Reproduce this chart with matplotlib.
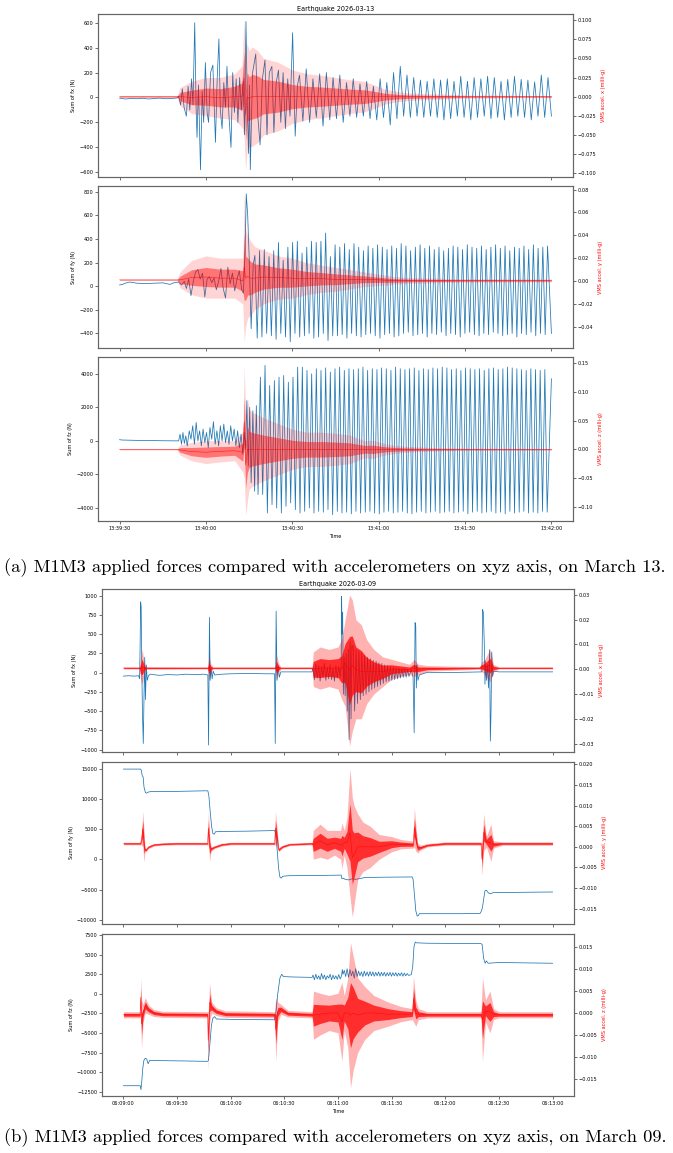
import numpy as np
import matplotlib
matplotlib.use("Agg")
import matplotlib.pyplot as plt
import matplotlib.dates as mdates
from matplotlib.ticker import MultipleLocator

BLUE = "#1f77b4"
W, H = 673, 1153

# ---------------- March 13 (seconds after 13:39:30) ----------------
BASE_A = "2026-03-13T13:39:30"

FX_A_QUIET = [(0, -5), (2, -12), (4, -8), (6, -10), (8, -6), (10, -12), (12, -8),
              (14, -5), (16, -10), (18, -8), (20, -4)]
FX_A_ONSET = [(20.5, 10), (21.2, -60), (21.8, 70), (22.4, -80), (23.2, -150), (23.8, 90),
              (24.4, -100), (25.0, 150), (25.5, -60), (26.1, 600), (26.6, -100), (26.9, -320),
              (27.4, 100), (28.1, -580), (28.7, 50), (29.2, -200), (29.8, 280), (30.4, -120),
              (30.9, -200), (31.6, 200), (32.4, 260), (32.9, -80), (33.3, -360), (33.9, 150),
              (34.5, 470), (35.0, -100), (35.6, -250), (36.2, 120), (36.8, -80), (37.3, 250),
              (38.0, -150), (38.7, -400), (39.3, 200), (39.9, -120), (40.5, 150), (41.1, -200),
              (41.7, 160), (42.3, -100), (42.9, 130), (43.4, -300), (43.9, 610), (44.4, -100),
              (44.8, -450), (45.1, 100), (45.4, -580), (46.2, 200), (47.3, 350), (48.0, -150),
              (48.8, -380), (49.6, 150), (50.5, 300), (51.2, -300), (52.0, 200), (52.9, 250),
              (53.6, -280), (54.4, 120), (55.2, 220), (56.0, -200), (56.8, 200), (57.6, -250),
              (58.4, 150), (59.2, -150), (60.1, 520), (61.0, -310), (61.8, 100)]
FX_A_PEAKS = [180, 230, 150, 190, 200, 160, 180, 120, 150, 110, 130, 90, 150, 120, 200, 250,
              180, 160, 140, 130, 150, 140, 150, 130, 170, 130, 160, 150, 170, 160, 130, 145,
              170, 145, 140, 125, 180, 160]
FX_A_TROUGHS = [-190, -200, -160, -230, -180, -170, -200, -150, -160, -150, -170, -180, -160,
                -220, -170, -150, -160, -150, -160, -150, -160, -180, -170, -150, -160, -180,
                -160, -150, -170, -160, -180, -160, -150, -160, -180, -150, -160, -150]

FY_A_QUIET = [(0, 10), (1, 15), (2, 25), (3.5, 35), (6, 25), (9, 22), (12, 25), (15, 28),
              (17.5, 15), (19, 30), (20.5, 35)]
FY_A_ONSET = [(21.5, 10), (22.5, 40), (23.2, -20), (24.0, 60), (24.8, -80), (25.6, 40),
              (26.4, 120), (27.2, 140), (28.0, 60), (28.8, 110), (29.6, -90), (30.4, 60),
              (31.2, 80), (32.0, 30), (32.8, 70), (33.6, -30), (34.4, 40), (35.2, 150),
              (36.0, -20), (36.8, -100), (37.6, 160), (38.4, 20), (39.2, 110), (40.0, -40),
              (40.8, 60), (41.6, 130), (42.4, -30), (43.0, -60), (43.6, 300), (44.0, 780),
              (44.5, 600), (45.0, 250), (45.7, -360), (46.4, 180), (47.0, 260), (150, -400)]
FY_A_TROUGHS = [-440, -430, -400, -420, -450, -400, -430, -470, -400, -430, -420, -400, -440,
                -430, -400, -460, -420, -420, -410, -440, -400, -420, -430, -410, -400, -420,
                -440, -410, -400, -430, -420, -400, -390, -420, -410, -400, -430, -400, -410,
                -390, -420, -400, -410, -430, -400, -390, -410, -420, -400, -410, -390, -400,
                -420, -410, -400, -430, -400, -410, -390, -420, -400, -410]
FY_A_PEAKS = [300, 310, 250, 300, 370, 220, 330, 370, 380, 280, 330, 380, 370, 380, 450, 250,
              350, 330, 360, 310, 360, 330, 300, 340, 320, 350, 330, 310, 340, 320, 360, 340,
              300, 330, 350, 320, 340, 310, 330, 300, 320, 340, 330, 310, 350, 330, 320, 340,
              310, 330, 350, 320, 340, 300, 330, 320, 340, 310, 350, 320, 330, 340]

FZ_A_QUIET = [(0, 70), (1, 50), (3, 40), (6, 30), (10, 30), (14, 10), (18, 5), (20.5, 0)]
FZ_A_ONSET = [(21.0, 400), (21.5, -200), (22.0, 500), (22.5, -150), (23.0, 300), (23.5, -300),
              (24.2, 600), (24.8, 100), (25.4, 900), (26.0, -200), (26.6, 1100), (27.2, 0),
              (27.8, 600), (28.4, -300), (29.0, 700), (29.6, -100), (30.2, 500), (30.8, -400),
              (31.4, 800), (32.0, 100), (32.6, 1150), (33.2, -200), (33.8, 600), (34.4, -300),
              (35.0, 900), (35.6, 0), (36.2, 1000), (36.8, -100), (37.4, 600), (38.0, -200),
              (38.6, 900), (39.2, 0), (39.8, 700), (40.4, -300), (41.0, 600), (41.6, -400),
              (42.2, 400), (42.8, -800), (43.3, 500), (43.8, -500), (44.2, 2400), (44.7, -1500),
              (45.2, 2000), (45.7, -2500), (46.3, 1800), (46.9, -3000), (47.5, 2100),
              (48.1, -3200), (150, 3700)]
FZ_A_PEAKS = [3800, 4500, 3300, 3600, 3800, 3900, 3500, 3800, 4400, 4400, 4200, 4000, 4300,
              4200, 4350, 4100, 4300, 4400, 4200, 4300, 4250, 4300, 4400, 4200, 4300, 4250,
              4350, 4300, 4200, 4400, 4300, 4250, 4300, 4350, 4200, 4300, 4250, 4350, 4300,
              4400, 4350, 4250, 4300, 4200, 4350, 4300, 4250, 4300, 4200, 4300, 4350, 4250,
              4300, 4400, 4350, 4300, 4250, 4200, 4300, 4250, 4200, 4250]
FZ_A_TROUGHS = [-3200, -4300, -3800, -4000, -4300, -3900, -3700, -4100, -4300, -4200, -4000,
                -4300, -4200, -4250, -4100, -4400, -4200, -4300, -4250, -4350, -4200, -4300,
                -4250, -4200, -4300, -4350, -4250, -4200, -4300, -4250, -4200, -4300, -4350,
                -4250, -4200, -4300, -4250, -4200, -4300, -4250, -4200, -4300, -4250, -4200,
                -4350, -4250, -4200, -4300, -4250, -4200, -4300, -4250, -4350, -4200, -4300,
                -4250, -4200, -4300, -4250, -4300, -4200, -4250]

# accelerometer envelopes (t, low, high) in milli-g
ACC_A_X = [(0, -0.001, 0.001), (20, -0.001, 0.001), (21, -0.012, 0.012), (25, -0.022, 0.02),
           (30, -0.025, 0.025), (35, -0.028, 0.025), (40, -0.03, 0.03), (42.5, -0.04, 0.04),
           (43.2, -0.05, 0.1), (43.8, -0.097, 0.05), (44.3, -0.07, 0.07), (45, -0.065, 0.06),
           (46, -0.065, 0.065), (48, -0.06, 0.06), (50, -0.05, 0.05), (55, -0.045, 0.045),
           (60, -0.035, 0.035), (65, -0.03, 0.03), (70, -0.028, 0.028), (75, -0.025, 0.025),
           (80, -0.022, 0.022), (85, -0.02, 0.02), (88, -0.016, 0.016), (92, -0.01, 0.01),
           (96, -0.007, 0.007), (100, -0.005, 0.005), (105, -0.004, 0.004),
           (110, -0.0035, 0.0035), (115, -0.003, 0.003), (120, -0.002, 0.002),
           (130, -0.002, 0.002), (140, -0.0015, 0.0015), (150, -0.0015, 0.0015)]
ACC_A_Y = [(0, 0.0005, 0.0015), (20, 0.0005, 0.0015), (21, -0.006, 0.008), (25, -0.012, 0.018),
           (30, -0.015, 0.022), (35, -0.015, 0.02), (40, -0.015, 0.02), (42.8, -0.02, 0.02),
           (43.3, -0.053, 0.078), (43.8, -0.04, 0.045), (44.5, -0.032, 0.04),
           (45.5, -0.03, 0.035), (47, -0.025, 0.03), (50, -0.02, 0.027), (55, -0.016, 0.022),
           (60, -0.015, 0.02), (65, -0.012, 0.016), (70, -0.01, 0.014), (75, -0.009, 0.012),
           (80, -0.007, 0.01), (85, -0.005, 0.008), (90, -0.004, 0.006), (95, -0.003, 0.004),
           (100, -0.002, 0.003), (110, -0.0015, 0.0025), (120, -0.001, 0.002),
           (150, -0.0008, 0.0018)]
ACC_A_Z = [(0, -0.001, 0.001), (20, -0.001, 0.001), (21, -0.01, 0.008), (25, -0.02, 0.012),
           (30, -0.025, 0.015), (35, -0.022, 0.015), (40, -0.02, 0.015), (42.8, -0.04, 0.03),
           (43.3, -0.05, 0.146), (43.8, -0.115, 0.06), (44.4, -0.09, 0.09), (45, -0.07, 0.07),
           (46, -0.065, 0.065), (48, -0.06, 0.06), (50, -0.055, 0.055), (55, -0.045, 0.045),
           (60, -0.035, 0.035), (65, -0.03, 0.03), (70, -0.03, 0.03), (75, -0.028, 0.028),
           (80, -0.025, 0.025), (85, -0.015, 0.015), (88, -0.016, 0.016), (92, -0.01, 0.01),
           (96, -0.007, 0.007), (100, -0.005, 0.005), (110, -0.003, 0.003),
           (120, -0.002, 0.002), (150, -0.0015, 0.0015)]

# ---------------- March 09 (seconds after 06:09:00) ----------------
BASE_B = "2026-03-09T06:09:00"

FX_B_STEPS = [(0, -45), (3, -40), (6, -45), (8.5, -40), (9.0, -80), (9.3, 300), (9.6, 920),
              (9.9, 860), (10.2, 200), (10.6, -500), (11.1, -920), (11.5, -300), (11.9, 200),
              (12.3, -350), (12.8, 100), (13.3, -100), (14, -40), (15, -20), (20, -35), (25, -25),
              (30, -30), (35, -20), (40, -25), (45, -20), (47.2, -30), (47.6, -940), (48.1, 720),
              (48.5, -100), (49, 50), (49.6, -80), (50.2, 20), (51, -30), (55, -20), (60, -15),
              (70, -10), (80, -15), (84.5, -15), (84.9, -920), (85.4, 800), (85.9, -100),
              (86.5, 80), (87.2, -60), (88, 10), (95, 10), (105.5, 10),
              (121.8, 100), (122.0, 990), (122.3, 500), (122.6, 780), (123, -280), (123.5, 200),
              (124, -300), (124.6, 250), (125.2, -500), (125.8, 300), (126.2, -870),
              (126.8, 400), (127.3, -600), (127.8, 350),
              (161, 40), (162.0, -60), (162.6, -780), (163.1, 650), (163.5, 600), (163.8, -200),
              (164.2, 100), (164.7, -100), (165.5, -30), (170, 5), (180, 0), (190, 5),
              (200.5, 10), (200.9, 820), (201.3, 780), (201.8, 400), (202.2, -150), (202.6, 150),
              (203.0, -100), (203.6, 100), (204.2, -200), (204.8, 300), (205.2, -890),
              (205.6, -500), (206.0, 270), (206.5, -50), (207, 20), (210, 10), (240, 10)]
FX_B_SHAKE = [60, -90, 110, -70, 90, -110, 80, -60, 120, -100, 70, -80, 100, -90, 60, -110, 90,
              -70, 80, -60]
FX_B_DECAY = [350, -500, 300, -400, 280, -350, 250, -300, 220, -280, 200, -250, 180, -220, 160,
              -200, 150, -180, 130, -160, 120, -140, 100, -120, 90, -110, 80, -100, 70, -90, 60,
              -80, 60, -70, 50, -60, 50, -60, 40, -50]

FY_B_STEPS = [(0, 15000), (9.5, 15000), (10, 14800), (10.5, 13900), (11, 13700), (11.5, 12000),
              (12.3, 11100), (13, 11000), (14, 11200), (16, 11300), (30, 11300), (46, 11400),
              (47.2, 11400), (47.8, 10500), (48.5, 8000), (49.3, 5500), (50.0, 4300),
              (50.8, 4200), (51.5, 4600), (55, 4650), (70, 4700), (84.5, 4800), (85.2, 4300),
              (86, 1500), (86.8, -1500), (87.5, -2900), (88.2, -3100), (89, -2800),
              (92, -2700), (110, -2650), (121.8, -2600), (122.2, -3200), (123, -3100),
              (124, -3300), (126, -3400), (128, -3200), (130, -3300), (135, -3000),
              (145, -2950), (161.5, -2900), (162, -3300), (162.8, -6000), (163.5, -8500),
              (164.3, -9400), (165, -9300), (165.5, -9000), (175, -9000), (190, -9000),
              (199.5, -8950), (200, -8700), (200.8, -8000), (201.5, -6500), (202.2, -5200),
              (203, -5100), (204, -5500), (205, -5700), (207, -5500), (240, -5400)]

FZ_B_STEPS = [(0, -11700), (9.4, -11700), (9.8, -12200), (10.3, -11000), (10.8, -9500),
              (11.4, -8500), (12.2, -8200), (13, -8300), (13.8, -8900), (14.6, -8500),
              (20, -8500), (35, -8550), (47, -8600), (47.5, -8500), (48.3, -6500),
              (49.2, -4000), (50, -3100), (51, -2900), (52, -3200), (60, -3250), (84.5, -3300),
              (85.2, -2500), (86.3, 0), (87.5, 2000), (88.5, 2500), (89.5, 2200), (95, 2150),
              (105.5, 2100), (122.0, 2300), (122.4, 3100), (122.8, 2500),
              (161, 2450), (161.8, 3500), (162.5, 6000), (163.2, 6600), (164, 6500),
              (170, 6450), (200, 6400), (200.6, 6300), (201.5, 4500), (202.3, 3900),
              (203, 4200), (204, 3900), (210, 4000), (240, 3900)]
FZ_B_SHAKE = [2400, 1800, 2500, 1900, 2300, 1800, 2600, 1900, 2400, 1800, 2300, 2000, 2500,
              1800, 2400, 1900, 2300, 1850, 2450, 1900]
FZ_B_DECAY = [3000, 2200, 3200, 2100, 3100, 2300, 2900, 2000, 3200, 2200, 2900, 2300, 2800,
              2200, 2900, 2300, 2800, 2250, 2850, 2300, 2800, 2250, 2750, 2300, 2800, 2250,
              2750, 2300, 2750, 2250, 2700, 2300, 2750, 2250, 2700, 2300, 2700, 2250, 2650,
              2300, 2700, 2250, 2650, 2300, 2600, 2350]

ACC_B_X = [(0, 0.0001, 0.0009), (9.0, 0.0001, 0.0009), (9.5, -0.004, 0.004),
           (10.5, -0.006, 0.008), (11.5, -0.002, 0.003), (12.5, 0.0, 0.001),
           (47, 0.0001, 0.0009), (47.8, -0.004, 0.005), (49, -0.001, 0.002),
           (50, 0.0001, 0.0009), (84.8, 0.0001, 0.0009), (85.5, -0.004, 0.006),
           (87, -0.001, 0.002), (88, 0.0001, 0.0009), (105.5, 0.0001, 0.0009),
           (106.2, -0.007, 0.007), (110, -0.008, 0.009), (115, -0.007, 0.008),
           (120, -0.008, 0.009), (122, -0.012, 0.012), (124, -0.015, 0.02),
           (126.5, -0.031, 0.03), (128, -0.025, 0.028), (130, -0.02, 0.02),
           (133, -0.02, 0.018), (136, -0.014, 0.012), (140, -0.01, 0.008),
           (145, -0.007, 0.005), (150, -0.004, 0.004), (155, -0.003, 0.003),
           (160, -0.002, 0.002), (162.5, -0.003, 0.004), (165, -0.002, 0.002),
           (170, -0.0008, 0.0015), (180, -0.0005, 0.0013), (199, 0.0, 0.001),
           (200.5, -0.001, 0.003), (202, -0.002, 0.004), (205, -0.005, 0.008),
           (207, -0.001, 0.002), (210, 0.0001, 0.0009), (240, 0.0001, 0.0009)]
ACC_B_Y = [(0, 0.0005, 0.0011), (9.5, 0.0005, 0.0011), (10.0, 0.0005, 0.0028),
           (10.8, 0.0, 0.0087), (11.5, -0.0037, 0.004), (12.0, -0.0012, 0.0),
           (12.5, -0.0012, -0.0004), (14, -0.0004, 0.0003), (17, 0.0002, 0.0008),
           (22, 0.0004, 0.001), (30, 0.0005, 0.0011), (47.0, 0.0005, 0.0011),
           (47.5, 0.0005, 0.0087), (48.2, -0.0035, 0.003), (49, -0.001, 0.0),
           (51, -0.0004, 0.0003), (55, 0.0002, 0.0009), (60, 0.0005, 0.0011),
           (84.5, 0.0005, 0.0011), (85.0, 0.0005, 0.0087), (85.8, 0.0, 0.005),
           (86.8, -0.0012, -0.0002), (89, -0.0003, 0.0004), (93, 0.0003, 0.0009),
           (105.5, 0.0005, 0.0011), (106.2, -0.003, 0.004), (110, -0.0025, 0.0055),
           (114, -0.003, 0.004), (118, -0.002, 0.004), (121.5, -0.003, 0.004),
           (122.2, -0.0052, 0.0058), (123.5, -0.002, 0.004), (125, -0.005, 0.007),
           (126.7, -0.012, 0.019), (128, -0.017, 0.012), (129, -0.014, 0.01),
           (131, -0.008, 0.008), (134, -0.006, 0.006), (138, -0.005, 0.005),
           (143, -0.003, 0.003), (150, -0.0012, 0.0025), (155, -0.0005, 0.0018),
           (162, -0.0003, 0.0014), (162.7, 0.0, 0.0095), (163.5, -0.001, 0.0055),
           (164.5, -0.0015, 0.001), (166, -0.0008, 0.0004), (170, 0.0, 0.0008),
           (180, 0.0004, 0.0012), (200, 0.0004, 0.0012), (200.5, -0.007, 0.001),
           (201.5, -0.001, 0.008), (203, 0.0, 0.0025), (205.5, -0.0035, 0.0055),
           (207, -0.0003, 0.0015), (212, 0.0004, 0.0012), (240, 0.0004, 0.0012)]
ACC_B_Z = [(0, -0.0011, 0.0003), (9.3, -0.0011, 0.0003), (9.6, -0.001, 0.0081),
           (10.1, -0.008, 0.003), (11, -0.002, 0.002), (12.2, 0.0, 0.0035),
           (14, -0.0003, 0.0018), (17, -0.0008, 0.0008), (22, -0.001, 0.0004),
           (47, -0.0011, 0.0003), (47.4, -0.013, 0.0005), (48.2, -0.002, 0.0068),
           (49.3, 0.0, 0.0025), (52, -0.0006, 0.0012), (57, -0.001, 0.0005),
           (84.5, -0.0011, 0.0003), (85.2, -0.011, 0.0035), (86.3, -0.002, 0.0025),
           (88, -0.0003, 0.002), (92, -0.0009, 0.0006), (105.5, -0.0011, 0.0003),
           (106.3, -0.006, 0.005), (110, -0.005, 0.0045), (115, -0.004, 0.004),
           (120, -0.0045, 0.0045), (122.2, -0.011, 0.007), (123.5, -0.004, 0.004),
           (125.5, -0.008, 0.008), (127, -0.017, 0.016), (128.5, -0.013, 0.013),
           (131, -0.009, 0.008), (135, -0.006, 0.006), (140, -0.004, 0.004),
           (148, -0.003, 0.0025), (155, -0.002, 0.0015), (161.5, -0.0015, 0.001),
           (162.2, -0.002, 0.0085), (163.5, -0.003, 0.003), (165, -0.0015, 0.001),
           (170, -0.0011, 0.0003), (200, -0.0011, 0.0003), (200.8, -0.011, 0.008),
           (202.5, -0.002, 0.003), (205, -0.0045, 0.005), (207, -0.0015, 0.001),
           (210, -0.0011, 0.0003), (240, -0.0011, 0.0003)]


def interleave(first, second):
    return np.ravel(np.column_stack([first, second]))


def build(parts):
    # parts: lists of (t, v) knots or (t0, step, values) regular swings
    ts, vs = [], []
    for p in parts:
        if isinstance(p, tuple):
            t0, step, vals = p
            ts.append(t0 + step * np.arange(len(vals)))
            vs.append(np.asarray(vals, float))
        else:
            arr = np.asarray(p, float)
            ts.append(arr[:, 0])
            vs.append(arr[:, 1])
    t = np.concatenate(ts)
    v = np.concatenate(vs)
    order = np.argsort(t, kind="stable")
    return t[order], v[order]


def stamp(base, secs):
    return np.datetime64(base) + np.round(np.asarray(secs) * 1000).astype("timedelta64[ms]")


def rect(left, right, top, bottom):
    return [left / W, 1 - bottom / H, (right - left) / W, (bottom - top) / H]


def panel(fig, box, base, blue, acc, name, lims, steps, span, bottom_row, alphas):
    ax = fig.add_axes(box)
    t, v = blue
    ax.plot(stamp(base, t), v, color=BLUE, lw=0.55)
    ax2 = ax.twinx()
    a = np.asarray(acc, float)
    x = stamp(base, a[:, 0])
    lo, hi = a[:, 1], a[:, 2]
    mid, half = (lo + hi) / 2, (hi - lo) / 2
    ax2.fill_between(x, lo, hi, color="red", alpha=alphas[0], lw=0)
    ax2.fill_between(x, mid - 0.45 * half, mid + 0.45 * half, color="red", alpha=alphas[1], lw=0)
    ax2.plot(x, mid, color="red", lw=0.4, alpha=0.8)

    ax.set_ylim(*lims[0])
    ax2.set_ylim(*lims[1])
    ax.yaxis.set_major_locator(MultipleLocator(steps[0]))
    ax2.yaxis.set_major_locator(MultipleLocator(steps[1]))
    b0 = np.datetime64(base)
    pad = np.timedelta64(int(span * 50), "ms")
    ax.set_xlim(b0 - pad, b0 + np.timedelta64(int(span * 1000), "ms") + pad)
    ax.xaxis.set_major_locator(mdates.SecondLocator(bysecond=[0, 30]))
    ax.xaxis.set_major_formatter(mdates.DateFormatter("%H:%M:%S"))

    ax.set_ylabel(f"Sum of f{name} (N)", fontsize=3.6, labelpad=2)
    ax2.set_ylabel(f"VMS accel. {name} (milli-g)", fontsize=3.6, color="red", labelpad=3)
    for axis in (ax, ax2):
        axis.tick_params(labelsize=3.6, length=2, width=0.4, pad=1.5)
        for s in axis.spines.values():
            s.set_color("#666666")
            s.set_linewidth(0.8)
    if bottom_row:
        ax.set_xlabel("Time", fontsize=3.6, labelpad=2)
    else:
        ax.tick_params(axis="x", labelbottom=False)
    return ax


def main():
    fig = plt.figure(figsize=(W / 100, H / 100), dpi=100)

    fx_a = build([FX_A_QUIET, FX_A_ONSET, (62.5, 87.5 / 75, interleave(FX_A_PEAKS, FX_A_TROUGHS))])
    fy_a = build([FY_A_QUIET, FY_A_ONSET, (47.8, 0.82, interleave(FY_A_TROUGHS, FY_A_PEAKS))])
    fz_a = build([FZ_A_QUIET, FZ_A_ONSET, (48.9, 0.81, interleave(FZ_A_PEAKS, FZ_A_TROUGHS))])
    soft = (0.17, 0.45)
    dense = (0.3, 0.75)

    ax = panel(fig, rect(98, 573, 14, 177), BASE_A, fx_a, ACC_A_X, "x",
               ((-638, 670), (-0.105, 0.108)), (200, 0.025), 150, False, soft)
    ax.set_title("Earthquake 2026-03-13", fontsize=4.7, pad=2)
    panel(fig, rect(98, 573, 186, 348), BASE_A, fy_a, ACC_A_Y, "y",
          ((-523, 847), (-0.0586, 0.0831)), (200, 0.02), 150, False, soft)
    panel(fig, rect(98, 573, 357, 521), BASE_A, fz_a, ACC_A_Z, "z",
          ((-4776, 5000), (-0.125, 0.161)), (2000, 0.05), 150, True, soft)

    fx_b = build([FX_B_STEPS, (106, 0.8, FX_B_SHAKE), (128.5, 0.8, FX_B_DECAY)])
    fy_b = build([FY_B_STEPS])
    fz_b = build([FZ_B_STEPS, (106, 0.8, FZ_B_SHAKE), (123.5, 0.8, FZ_B_DECAY)])

    ax = panel(fig, rect(102, 574, 589, 752), BASE_B, fx_b, ACC_B_X, "x",
               ((-1031, 1087), (-0.0334, 0.0324)), (250, 0.01), 240, False, dense)
    ax.set_title("Earthquake 2026-03-09", fontsize=4.7, pad=2)
    panel(fig, rect(102, 574, 761.5, 924), BASE_B, fy_b, ACC_B_Y, "y",
          ((-10713, 16261), (-0.0187, 0.0207)), (5000, 0.005), 240, False, dense)
    panel(fig, rect(102, 574, 934, 1096), BASE_B, fz_b, ACC_B_Z, "z",
          ((-13010, 7627), (-0.0189, 0.018)), (2500, 0.005), 240, True, dense)

    fig.text(335 / W, 1 - 568 / H,
             "(a) M1M3 applied forces compared with accelerometers on xyz axis, on March 13.",
             ha="center", va="center", family="cmr10", fontsize=13.3)
    fig.text(335 / W, 1 - 1138 / H,
             "(b) M1M3 applied forces compared with accelerometers on xyz axis, on March 09.",
             ha="center", va="center", family="cmr10", fontsize=13.3)

    fig.savefig("out.png", dpi=100)


if __name__ == "__main__":
    main()
